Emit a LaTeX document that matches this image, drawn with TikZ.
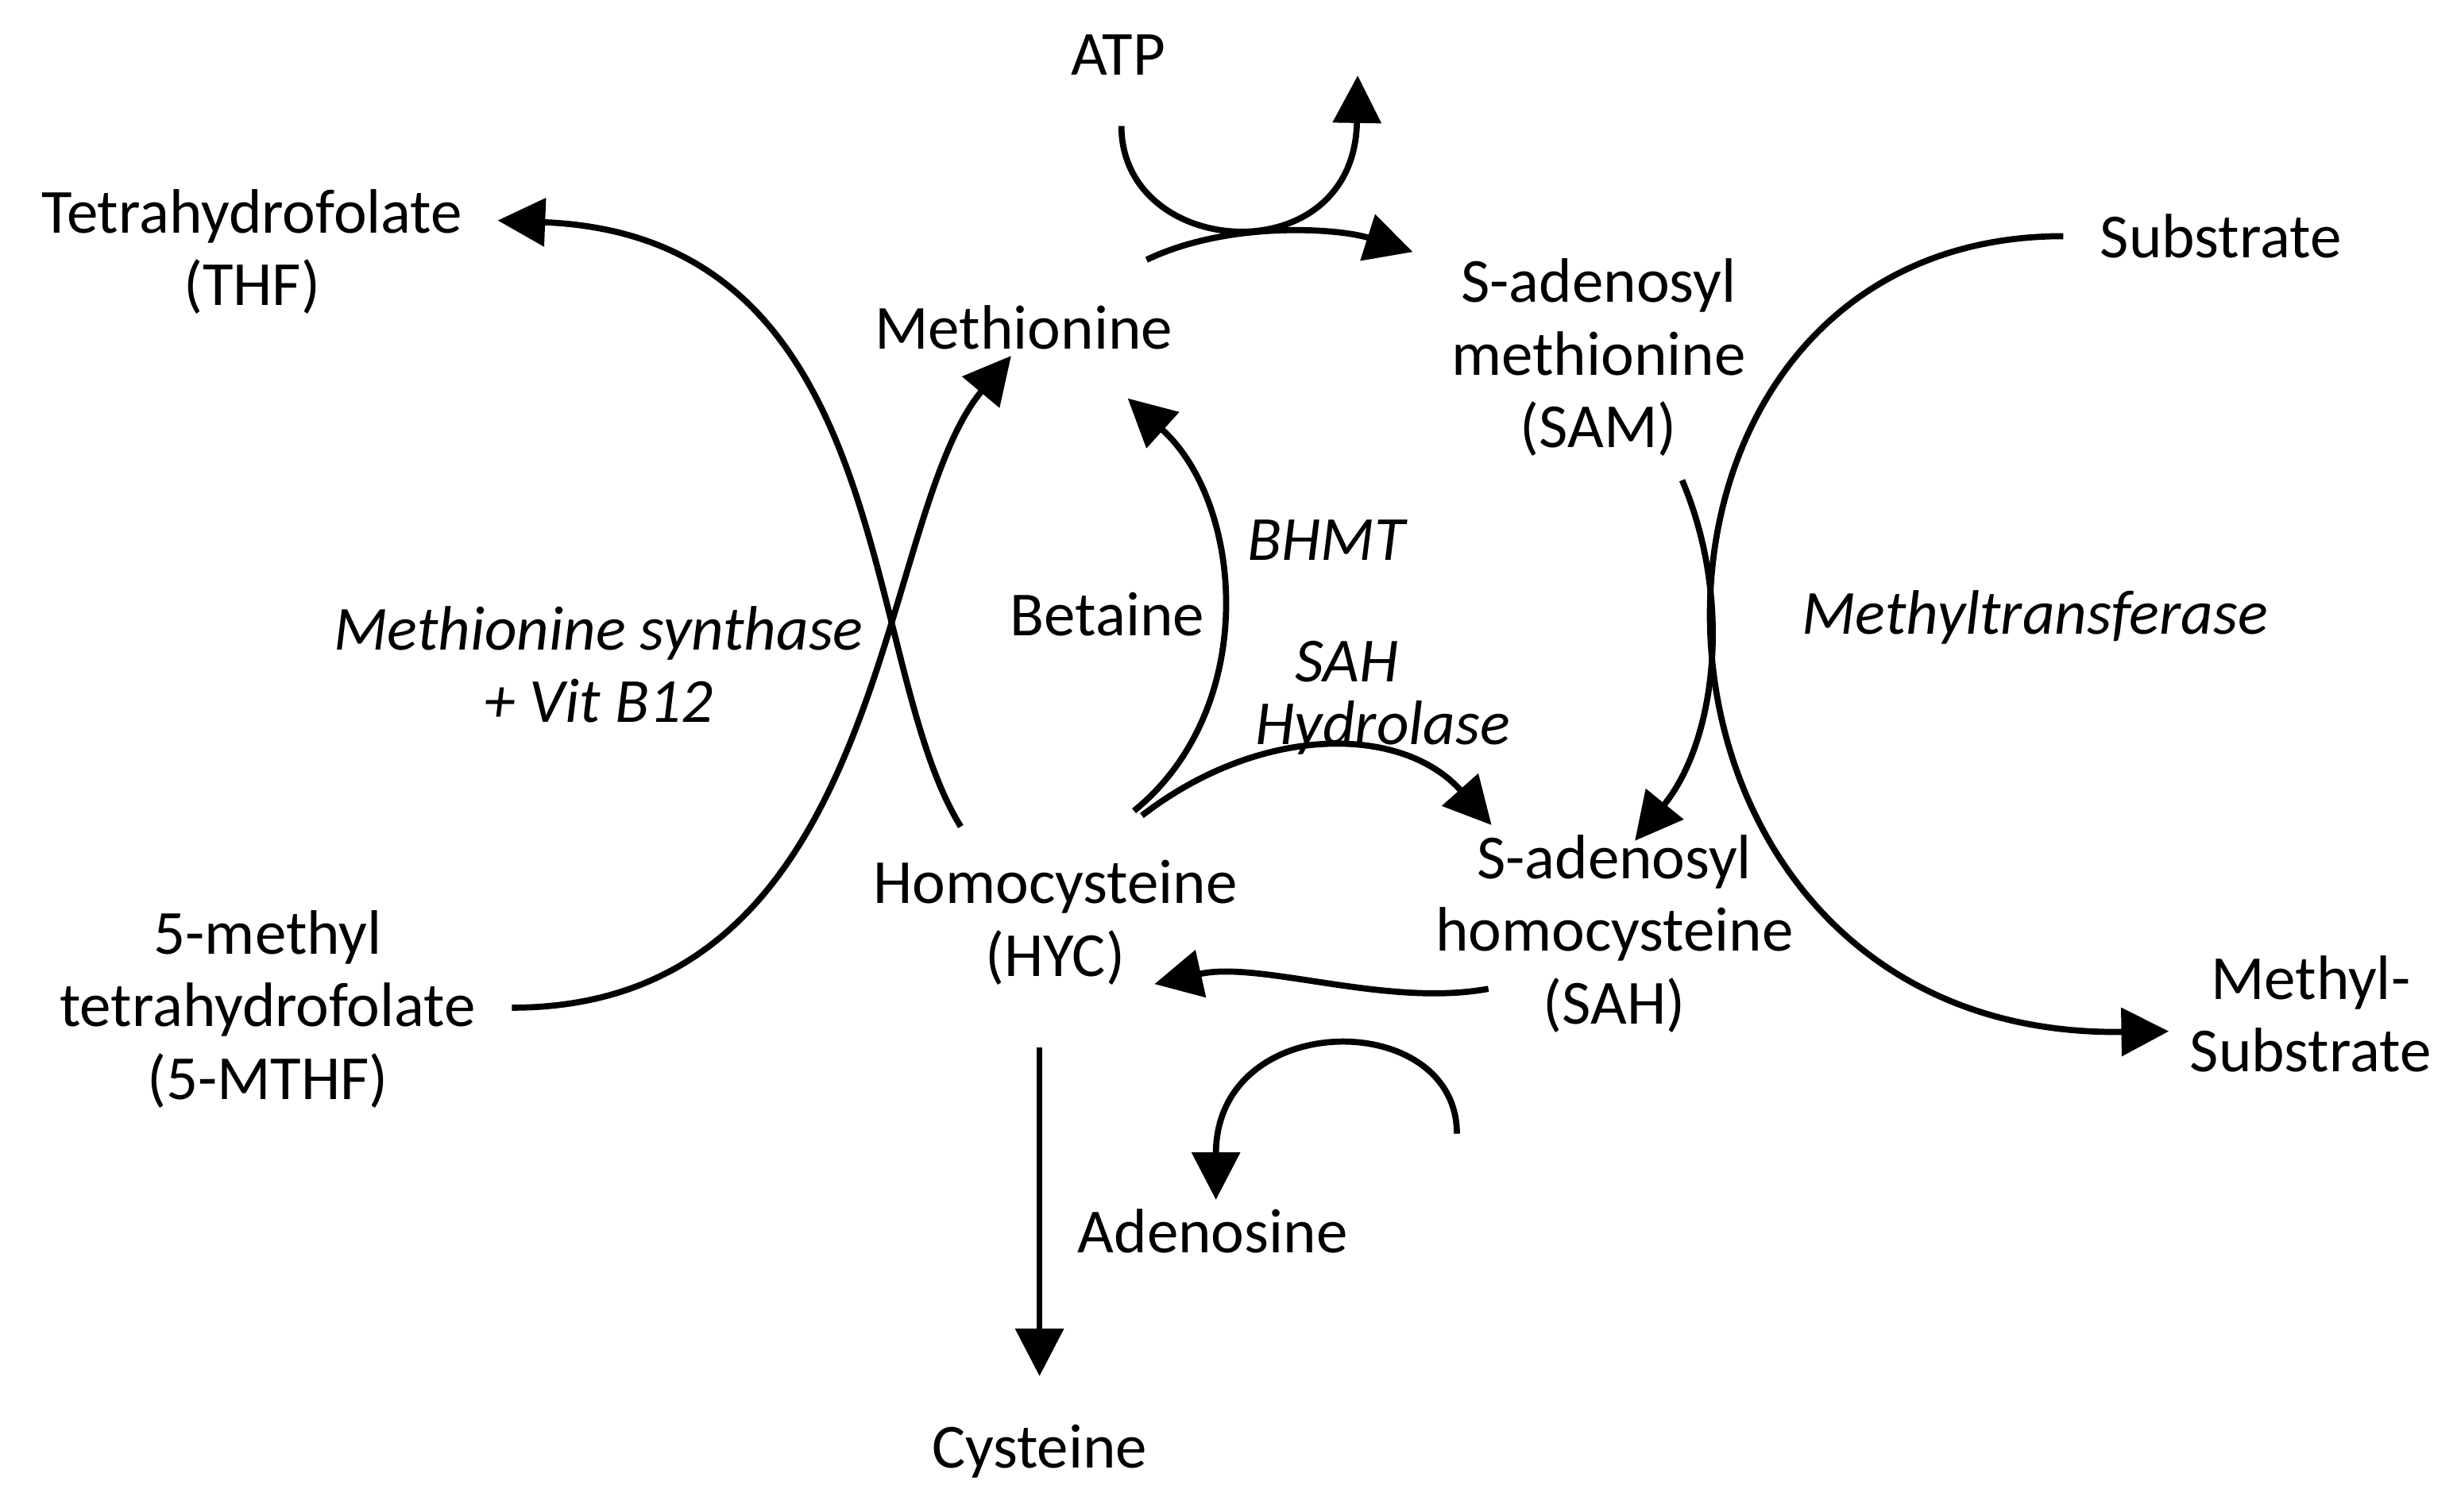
\documentclass[tikz,border=0pt]{standalone}
\usepackage{fontspec}
\setmainfont{Carlito}
\usetikzlibrary{arrows.meta}
\begin{document}
\begin{tikzpicture}[x=0.01983cm,y=-0.01983cm,
  lbl/.style={font=\fontsize{22.5}{26}\selectfont,align=center,inner sep=0},
  enz/.style={lbl,font=\fontsize{22.5}{26}\selectfont\itshape},
  arr/.style={line width=2.2pt,-{Triangle[length=17pt,width=17pt]}}]
\useasboundingbox (0,0) rectangle (1560,960);
\node[lbl] (atp) at (710,35) {ATP};
\node[lbl] (met) at (650,208) {Methionine};
\node[lbl] (sam) at (1015,227) {S-adenosyl\\methionine\\(SAM)};
\node[lbl] (thf) at (160,160) {Tetrahydrofolate\\(THF)};
\node[lbl] (sub) at (1410,150) {Substrate};
\node[enz] (ms) at (380,422) {Methionine synthase\\+ Vit B12};
\node[enz] (bhmt) at (842,343) {BHMT};
\node[lbl] (bet) at (703,390) {Betaine};
\node[enz] (sahl) at (855,420) {SAH};
\node[enz] (hyd) at (878,462) {Hydrolase};
\node[enz] (mt) at (1292,392) {Methyltransferase};
\node[lbl] (sah) at (1025,593) {S-adenosyl\\homocysteine\\(SAH)};
\node[lbl] (hyc) at (670,586) {Homocysteine\\(HYC)};
\node[lbl] (mthf) at (170,641) {5-methyl\\tetrahydrofolate\\(5-MTHF)};
\node[lbl] (msub) at (1467,644) {Methyl-\\Substrate};
\node[lbl] (ade) at (770,782) {Adenosine};
\node[lbl] (cys) at (660,922) {Cysteine};
\coordinate (a1) at (712,80); \coordinate (a2) at (862,48);
\draw[arr] (a1) .. controls (712,165) and (860,175) .. (a2);
\coordinate (m1) at (728,165); \coordinate (m2) at (897,160);
\draw[arr] (m1) .. controls (780,140) and (850,145) .. (m2);
\coordinate (t1) at (610,525); \coordinate (t2) at (316,140);
\draw[arr] (t1) .. controls (545,420) and (570,150) .. (t2);
\coordinate (b1) at (325,640); \coordinate (b2) at (642,226);
\draw[arr] (b1) .. controls (565,640) and (555,330) .. (b2);
\coordinate (h1) at (720,515); \coordinate (h2) at (716,253);
\draw[arr] (h1) .. controls (800,450) and (790,320) .. (h2);
\coordinate (h3) at (725,518); \coordinate (s1) at (947,524);
\draw[arr] (h3) .. controls (800,460) and (890,460) .. (s1);
\coordinate (sm1) at (1068,305); \coordinate (sm2) at (1038,534);
\draw[arr] (sm1) .. controls (1100,380) and (1090,470) .. (sm2);
\coordinate (su1) at (1310,150); \coordinate (su2) at (1377,655);
\draw[arr] (su1) .. controls (1000,150) and (1010,660) .. (su2);
\coordinate (sh1) at (945,628); \coordinate (sh2) at (733,625);
\draw[arr] (sh1) .. controls (880,640) and (800,610) .. (sh2);
\coordinate (ad1) at (925,720); \coordinate (ad2) at (772,762);
\draw[arr] (ad1) .. controls (925,640) and (772,640) .. (ad2);
\coordinate (c1) at (660,665); \coordinate (c2) at (660,874);
\draw[arr] (c1) -- (c2);
\end{tikzpicture}
\end{document}
